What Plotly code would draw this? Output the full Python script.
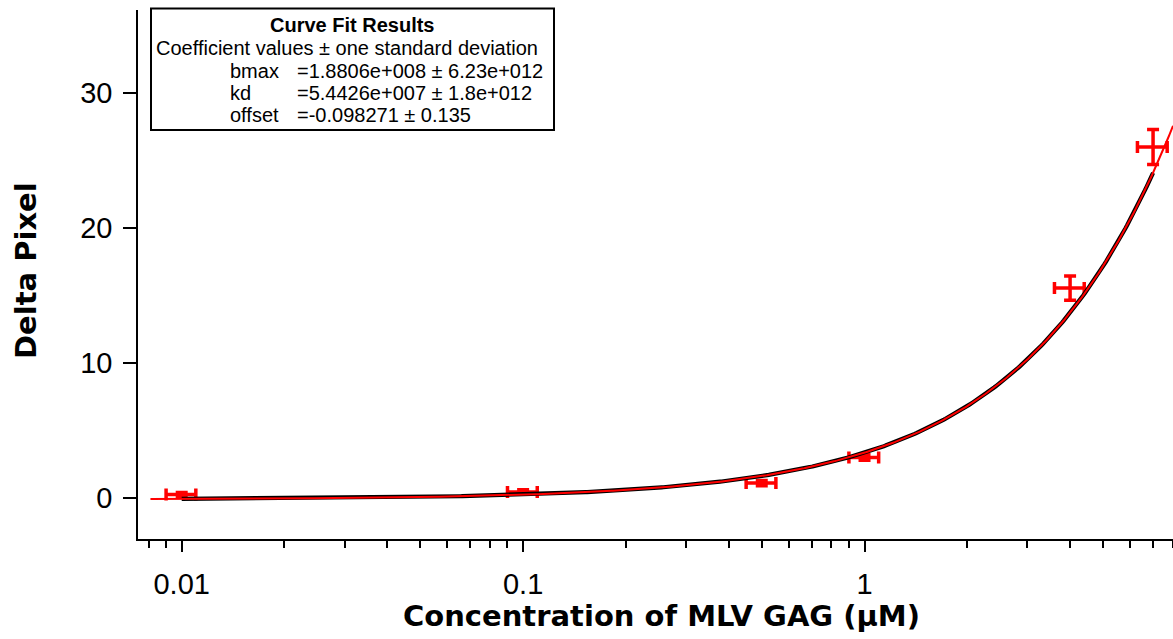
import numpy as np
import plotly.graph_objects as go

# ---- data ----
conc = [0.01, 0.1, 0.5, 1.0, 4.0, 7.0]
delta_pixel = [0.25, 0.45, 1.1, 3.0, 15.55, 26.0]
conc_err = [0.001, 0.01, 0.05, 0.1, 0.4, 0.7]
delta_err = [0.15, 0.15, 0.2, 0.2, 0.9, 1.3]

# curve-fit coefficients shown in the box
bmax = 1.8806e8
kd = 5.4426e7
offset = -0.098271

x_tick_vals = [0.01, 0.1, 1]
x_tick_text = ["0.01", "0.1", "1"]
x_minor_vals = [0.008, 0.009] + [k * 0.01 for k in range(2, 10)] + \
               [k * 0.1 for k in range(2, 10)] + [k * 1.0 for k in range(2, 9)]
y_tick_vals = [0, 10, 20, 30]

box_lines = [
    ("Coefficient values ± one standard deviation", None),
    ("bmax", "=1.8806e+008 ± 6.23e+012"),
    ("kd", "=5.4426e+007 ± 1.8e+012"),
    ("offset", "=-0.098271 ± 0.135"),
]

# ---- layout geometry (pixels) ----
W, H = 1173, 639
ML, MR, MT, MB = 138, 0, 10, 100
PW, PH = W - ML - MR, H - MT - MB
x_log_range = [-2.128, 0.9035]
y_range = [-3.04, 36.15]


def px_to_paper_x(px):
    return (px - ML) / PW


def px_to_paper_y(py):
    return (H - MB - py) / PH


def fit(x):
    x = np.asarray(x)
    return bmax * x / (kd + x) + offset


x_full = np.logspace(np.log10(0.0081), x_log_range[1], 600)
x_data_span = np.logspace(np.log10(min(conc)), np.log10(max(conc)), 600)

fig = go.Figure()

fig.add_trace(go.Scatter(
    x=conc, y=delta_pixel, mode="markers",
    marker=dict(size=1, color="#FF0000"),
    error_x=dict(type="data", array=conc_err, color="#FF0000", thickness=3.5, width=6),
    error_y=dict(type="data", array=delta_err, color="#FF0000", thickness=3.5, width=6),
    showlegend=False, hoverinfo="skip",
))
fig.add_trace(go.Scatter(
    x=x_data_span, y=fit(x_data_span), mode="lines",
    line=dict(color="black", width=4.2), showlegend=False, hoverinfo="skip",
))
fig.add_trace(go.Scatter(
    x=x_full, y=fit(x_full), mode="lines",
    line=dict(color="#FF0000", width=2), showlegend=False, hoverinfo="skip",
))

tick_font = dict(family="Arial, Liberation Sans, sans-serif", size=29, color="black")
title_font = dict(family="DejaVu Sans, sans-serif", size=29, color="black", weight="bold")
box_font = dict(family="Arial, Liberation Sans, sans-serif", size=20, color="black")

fig.update_layout(
    width=W, height=H,
    margin=dict(l=ML, r=MR, t=MT, b=MB, pad=0),
    paper_bgcolor="white", plot_bgcolor="white",
    xaxis=dict(
        type="log", range=x_log_range,
        showgrid=False, zeroline=False,
        showline=True, linecolor="black", linewidth=1.5,
        ticks="outside", ticklen=11, tickwidth=1.5, tickcolor="black",
        tickvals=x_tick_vals, ticktext=x_tick_text, tickfont=tick_font,
        minor=dict(tickvals=x_minor_vals, ticks="outside", ticklen=7,
                   tickwidth=1.5, tickcolor="black", showgrid=False),
        ticklabelstandoff=7,
    ),
    yaxis=dict(
        range=y_range,
        showgrid=False, zeroline=False,
        showline=True, linecolor="black", linewidth=1.5,
        ticks="outside", ticklen=13, tickwidth=1.5, tickcolor="black",
        tickvals=y_tick_vals, tickfont=tick_font,
        ticklabelstandoff=5,
    ),
)

# axis titles placed as annotations
fig.add_annotation(
    text="Concentration of MLV GAG (µM)", xref="paper", yref="paper",
    x=px_to_paper_x(661), y=px_to_paper_y(616), xanchor="center", yanchor="middle",
    showarrow=False, font=title_font,
)
fig.add_annotation(
    text="Delta Pixel", xref="paper", yref="paper", textangle=-90,
    x=px_to_paper_x(26), y=px_to_paper_y(271), xanchor="center", yanchor="middle",
    showarrow=False, font=title_font,
)

# curve fit results box
fig.add_shape(
    type="rect", xref="paper", yref="paper",
    x0=px_to_paper_x(151), x1=px_to_paper_x(554),
    y0=px_to_paper_y(130), y1=px_to_paper_y(8.5),
    line=dict(color="black", width=2), fillcolor="white", layer="above",
)
fig.add_annotation(
    text="<b>Curve Fit Results</b>", xref="paper", yref="paper",
    x=px_to_paper_x(352), y=px_to_paper_y(25), xanchor="center", yanchor="middle",
    showarrow=False, font=box_font,
)
row_y = [48, 71, 93, 115]
for (lab, val), ry in zip(box_lines, row_y):
    if val is None:
        fig.add_annotation(
            text=lab, xref="paper", yref="paper",
            x=px_to_paper_x(154), y=px_to_paper_y(ry), xanchor="left", yanchor="middle",
            showarrow=False, font=box_font,
        )
    else:
        fig.add_annotation(
            text=lab, xref="paper", yref="paper",
            x=px_to_paper_x(228), y=px_to_paper_y(ry), xanchor="left", yanchor="middle",
            showarrow=False, font=box_font,
        )
        fig.add_annotation(
            text=val, xref="paper", yref="paper",
            x=px_to_paper_x(295), y=px_to_paper_y(ry), xanchor="left", yanchor="middle",
            showarrow=False, font=box_font,
        )

fig.write_html("out.html")
